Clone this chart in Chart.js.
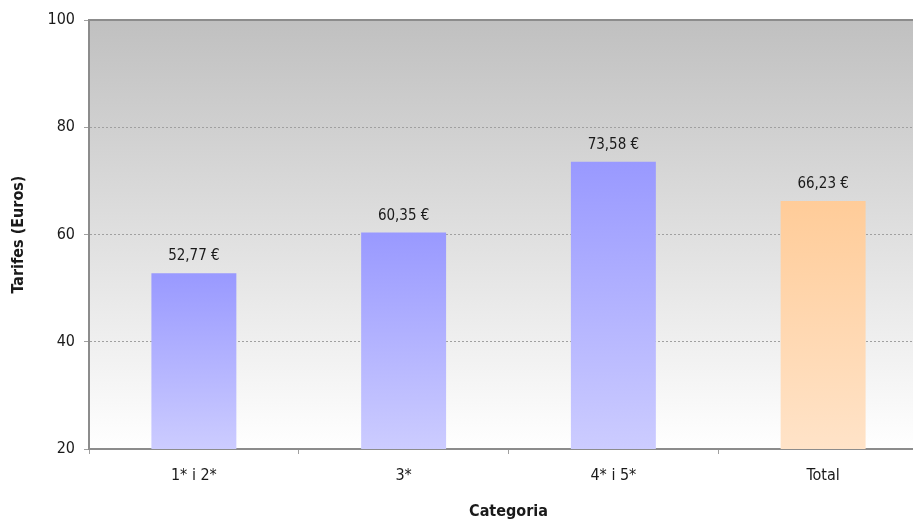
<!DOCTYPE html>
<html>
<head>
<meta charset="utf-8">
<script src="https://cdn.jsdelivr.net/npm/chart.js@4/dist/chart.umd.min.js"></script>
<style>
  html, body { margin: 0; padding: 0; background: #fff; overflow: hidden; }
  #wrap { width: 930px; height: 525px; }
</style>
</head>
<body>
<div id="wrap"><canvas id="tarifesChart" width="930" height="525"></canvas></div>
<script>
// Dades del gràfic
const categories = ['1* i 2*', '3*', '4* i 5*', 'Total'];
const tarifes = [52.77, 60.35, 73.58, 66.23];
const yTicks = [20, 40, 60, 80, 100];

const FONT = "'Liberation Sans Narrow', 'Arial Narrow', 'DejaVu Sans Condensed', sans-serif";

// Gradient de cada barra (de dalt a baix)
function barFill(ctx) {
    const chart = ctx.chart;
    const isTotal = categories[ctx.dataIndex] === 'Total';
    const topCol = isTotal ? '#ffcc99' : '#9999ff';
    const botCol = isTotal ? '#ffe3c8' : '#ccccff';
    if (!chart.chartArea || ctx.type !== 'data') return topCol;
    const y = chart.scales.y;
    const top = y.getPixelForValue(ctx.raw);
    const bot = y.getPixelForValue(yTicks[0]);
    if (!isFinite(top) || !isFinite(bot) || top === bot) return topCol;
    const g = chart.ctx.createLinearGradient(0, top, 0, bot);
    g.addColorStop(0, topCol);
    g.addColorStop(1, botCol);
    return g;
}

// Fons degradat de l'àrea del gràfic
const plotBackground = {
    id: 'plotBackground',
    beforeDraw(chart) {
        const { ctx, chartArea: a } = chart;
        const g = ctx.createLinearGradient(0, a.top, 0, a.bottom);
        g.addColorStop(0, '#c0c0c0');
        g.addColorStop(1, '#ffffff');
        ctx.save();
        ctx.fillStyle = g;
        ctx.fillRect(a.left, a.top, a.right - a.left, a.bottom - a.top);
        ctx.strokeStyle = '#8c8c8c';
        ctx.lineWidth = 2;
        ctx.strokeRect(a.left, a.top, a.right - a.left, a.bottom - a.top);
        ctx.restore();
    }
};

// Etiquetes de valor sobre les barres
const valueLabels = {
    id: 'valueLabels',
    afterDatasetsDraw(chart) {
        const { ctx } = chart;
        const meta = chart.getDatasetMeta(0);
        ctx.save();
        ctx.font = '15px ' + FONT;
        ctx.fillStyle = '#1a1a1a';
        ctx.textAlign = 'center';
        ctx.textBaseline = 'middle';
        meta.data.forEach((bar, i) => {
            const txt = tarifes[i].toFixed(2).replace('.', ',') + ' €';
            ctx.fillText(txt, bar.x, bar.y - 17);
        });
        ctx.restore();
    }
};

document.addEventListener('DOMContentLoaded', () => {
    const canvas = document.getElementById('tarifesChart').getContext('2d');
    new Chart(canvas, {
        type: 'bar',
        data: {
            labels: categories,
            datasets: [{
                label: 'Tarifes',
                data: tarifes,
                backgroundColor: barFill,
                borderWidth: 0,
                barPercentage: 0.405,
                categoryPercentage: 1,
            }],
        },
        options: {
            responsive: false,
            animation: false,
            devicePixelRatio: 1,
            layout: { padding: { left: 0, right: 2, top: 20, bottom: 0 } },
            plugins: {
                legend: { display: false },
                tooltip: { enabled: false },
            },
            scales: {
                x: {
                    offset: true,
                    grid: {
                        offset: true,
                        drawOnChartArea: false,
                        drawTicks: true,
                        tickLength: 5,
                        tickColor: '#a0a0a0',
                    },
                    border: { color: '#8c8c8c', width: 2 },
                    ticks: {
                        color: '#1a1a1a',
                        padding: 12,
                        font: { family: FONT, size: 16 },
                    },
                    title: {
                        display: true,
                        text: 'Categoria',
                        color: '#1a1a1a',
                        font: { family: FONT, size: 16, weight: 'bold' },
                        padding: { top: 0, bottom: 4 },
                    },
                    afterFit(scale) { scale.height = 76; },
                },
                y: {
                    min: 20,
                    max: 100,
                    afterBuildTicks(scale) { scale.ticks = yTicks.map(v => ({ value: v })); },
                    grid: {
                        color: ctx => (ctx.tick && ctx.tick.value > 20 && ctx.tick.value < 100) ? '#a0a0a0' : 'rgba(0,0,0,0)',
                        lineWidth: 1,
                        tickLength: 5,
                        tickColor: '#a0a0a0',
                    },
                    border: { color: '#8c8c8c', width: 2, dash: [2, 2] },
                    ticks: {
                        color: '#1a1a1a',
                        padding: 9,
                        font: { family: FONT, size: 16 },
                    },
                    title: {
                        display: true,
                        text: 'Tarifes (Euros)',
                        color: '#1a1a1a',
                        font: { family: FONT, size: 16, weight: 'bold' },
                        padding: { top: 9, bottom: 0 },
                    },
                    afterFit(scale) { scale.width = 89; },
                },
            },
        },
        plugins: [plotBackground, valueLabels],
    });
});
</script>
</body>
</html>
